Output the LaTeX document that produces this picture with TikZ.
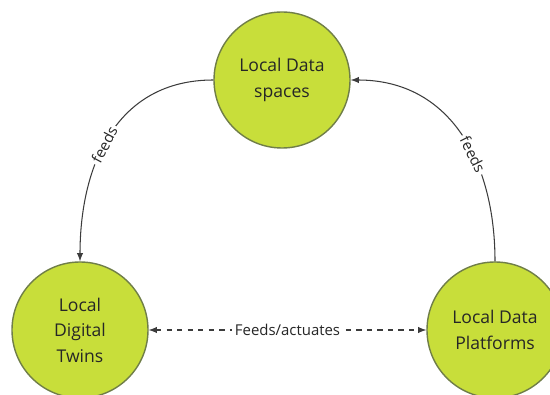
\documentclass[tikz,border=0pt]{standalone}
\usepackage{fontspec}
\setmainfont{Open Sans}
\definecolor{hubfill}{RGB}{200,222,58}
\definecolor{hubline}{RGB}{112,126,72}
\definecolor{linkgray}{RGB}{60,60,60}
\tikzset{
	hub/.style={circle,draw=hubline,line width=0.8pt,fill=hubfill,minimum size=2.72cm,align=center,font=\fontsize{10}{14.5}\selectfont,text=black!85},
	feedlink/.style={-latex,draw=linkgray,line width=0.6pt},
	edgelabel/.style={fill=white,inner sep=1.5pt,font=\fontsize{8.5}{10}\selectfont,text=black!85}
}
\begin{document}
\begin{tikzpicture}
	\useasboundingbox (0,0) rectangle (11,7.88);
	\node[hub] (spaces) at (5.64,6.28) {Local Data\\spaces};
	\node[hub] (twins) at (1.6,1.28) {Local\\Digital\\Twins};
	\node[hub] (platforms) at (9.9,1.28) {Local Data\\Platforms};
	\draw[feedlink] (spaces.west) to[out=180,in=90,looseness=1.1] node[edgelabel,pos=0.55,sloped] {feeds} (twins.north);
	\draw[feedlink] (platforms.north) to[out=90,in=0,looseness=1.1] node[edgelabel,pos=0.4,sloped] {feeds} (spaces.east);
	\draw[latex-latex,draw=linkgray,line width=0.6pt,dash pattern=on 3pt off 3pt] (twins.east) -- node[edgelabel] {Feeds/actuates} (platforms.west);
\end{tikzpicture}
\end{document}
